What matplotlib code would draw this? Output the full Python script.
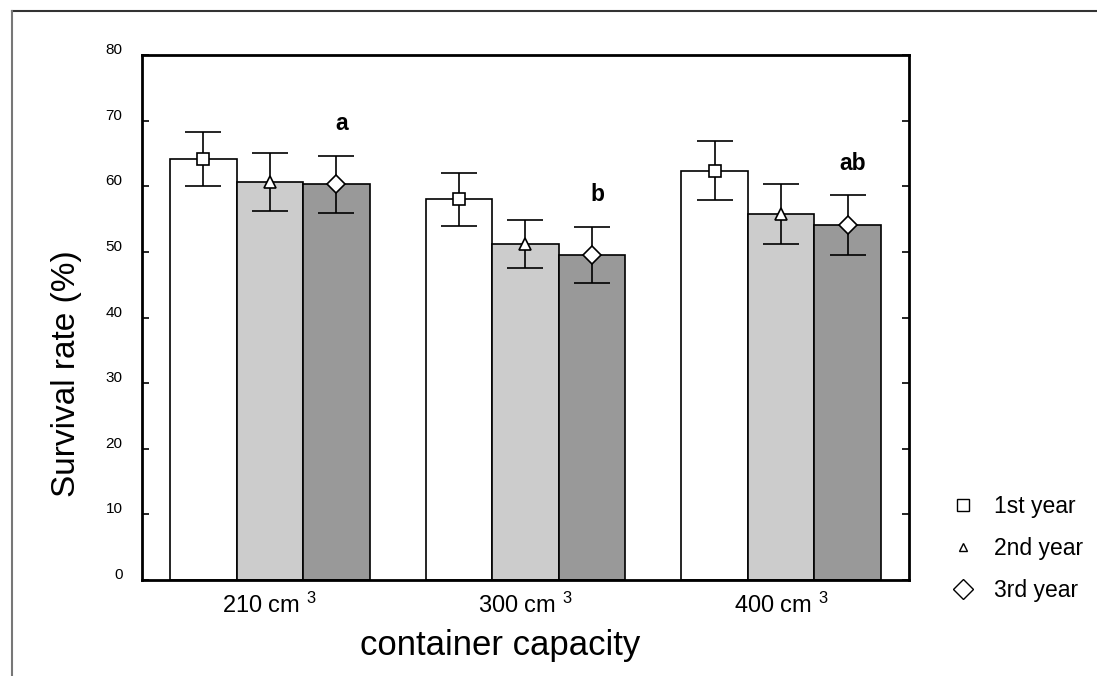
import numpy as np
import matplotlib
matplotlib.use("Agg")
import matplotlib.pyplot as plt
from matplotlib.lines import Line2D
from matplotlib.transforms import ScaledTranslation

plt.rcParams['font.family'] = ['Liberation Sans', 'DejaVu Sans']
plt.rcParams['mathtext.default'] = 'regular'

# data
capacities = ['210', '300', '400']
years = ['1st year', '2nd year', '3rd year']
mean_1st = [64.2, 58.0, 62.4]
mean_2nd = [60.6, 51.2, 55.8]
mean_3rd = [60.3, 49.5, 54.1]
err_1st = [4.1, 4.0, 4.5]
err_2nd = [4.4, 3.7, 4.6]
err_3rd = [4.3, 4.3, 4.5]
letters = ['a', 'b', 'ab']

means = [mean_1st, mean_2nd, mean_3rd]
errs = [err_1st, err_2nd, err_3rd]
fills = ['white', '#cccccc', '#999999']
markers = ['s', '^', 'D']
msizes = [8, 8, 9]

fig = plt.figure(figsize=(10.97, 6.76), dpi=100)
ax = fig.add_axes([0.1294, 0.142, 0.6992, 0.7766])

x = np.arange(len(capacities))
width = 0.26
for k in range(3):
    pos = x + (k - 1) * width
    ax.bar(pos, means[k], width=width, color=fills[k], edgecolor='black',
           linewidth=1.2, zorder=2)
    ax.errorbar(pos, means[k], yerr=errs[k], fmt='none', ecolor='black',
                elinewidth=1.2, capsize=13, capthick=1.2, zorder=3)
    ax.plot(pos, means[k], linestyle='none', marker=markers[k], ms=msizes[k],
            mfc='white', mec='black', mew=1.2, zorder=4)

# significance letters above the 3rd-year bars
for i, lab in enumerate(letters):
    ax.text(x[i] + width + 0.02, mean_3rd[i] + err_3rd[i] + 3.9, lab,
            ha='center', va='baseline', fontsize=16.5, fontweight='bold')

ax.set_xlim(-0.5, 2.5)
ax.set_ylim(0, 80)
ax.set_yticks(np.arange(0, 81, 10))
ax.set_xticks(x)
ax.set_xticklabels([c + ' cm $^{3}$' for c in capacities], fontsize=17)
ax.tick_params(axis='x', length=0, pad=9)
ax.tick_params(axis='y', direction='in', length=5, width=1.2, labelsize=11,
               pad=14, right=True)
shift = ScaledTranslation(0, 0.065, fig.dpi_scale_trans)
for lab in ax.get_yticklabels():
    lab.set_transform(lab.get_transform() + shift)
for sp in ax.spines.values():
    sp.set_linewidth(2)

ax.set_ylabel('Survival rate (%)', fontsize=24, labelpad=17)
ax.yaxis.label.set_y(0.394)
ax.set_xlabel('container capacity', fontsize=25, labelpad=8)
ax.xaxis.label.set_x(0.467)

handles = [Line2D([], [], linestyle='none', marker=m, ms=s, mfc='white',
                  mec='black', mew=1.0)
           for m, s in zip(markers, [8, 6, 10])]
fig.legend(handles, years, loc='upper left', bbox_to_anchor=(0.848, 0.298),
           frameon=False, fontsize=16.5, labelspacing=0.82, handletextpad=0.8,
           handlelength=1.1)

# outer frame lines of the original figure
fig.add_artist(Line2D([0.011, 1.0], [0.984, 0.984], color='#333333', lw=1.5))
fig.add_artist(Line2D([0.011, 0.011], [0.0, 0.984], color='#777777', lw=1.5))

fig.savefig('out.png', dpi=100)
